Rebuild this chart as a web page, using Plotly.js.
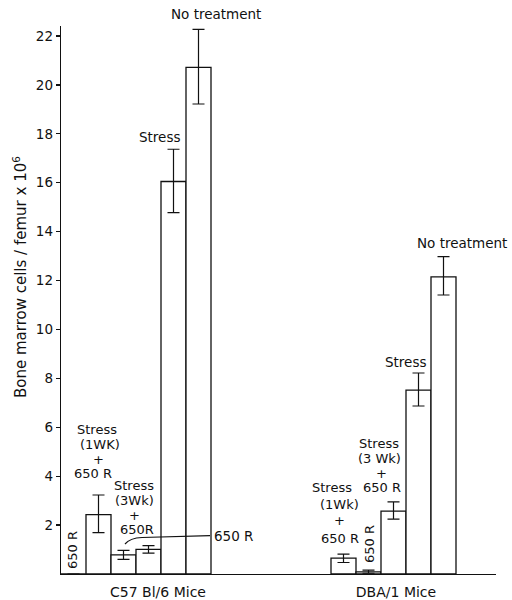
<!DOCTYPE html>
<html><head><meta charset="utf-8">
<script src="https://cdn.plot.ly/plotly-3.0.1.min.js"></script>
<style>html,body{margin:0;padding:0;background:#fff}#chart{width:512px;height:600px}</style>
</head><body><div id="chart"></div>
<script>
// ---- data ----
const c57Categories = ["650 R", "Stress (1 Wk) + 650 R", "Stress (3 Wk) + 650 R", "650 R", "Stress", "No treatment"];
const c57Values    = [0, 2.43, 0.78, 1.01, 16.05, 20.72];
const c57ErrPlus   = [0, 0.80, 0.19, 0.15, 1.32, 1.55];
const c57ErrMinus  = [0, 0.74, 0.18, 0.16, 1.27, 1.50];
const dbaCategories = ["Stress (1 Wk) + 650 R", "650 R", "Stress (3 Wk) + 650 R", "Stress", "No treatment"];
const dbaValues    = [0.65, 0.09, 2.57, 7.52, 12.15];
const dbaErrPlus   = [0.16, 0.07, 0.38, 0.70, 0.83];
const dbaErrMinus  = [0.18, 0.06, 0.33, 0.65, 0.74];
const groupLabels  = ["C57 Bl/6 Mice", "DBA/1 Mice"];
const yTickValues  = [2, 4, 6, 8, 10, 12, 14, 16, 18, 20, 22];
const yTitle = "Bone marrow cells / femur x 10<sup>6</sup>";

// ---- layout helpers ----
const FONT = "DejaVu Sans, Liberation Sans, sans-serif";
const INK = "#111";
const c57Offset = 0, dbaOffset = 10.8;
const PX = px => (px - 61) / 25;       // pixel -> x data (for annotation placement)
const PY = py => (574 - py) / 24.45;   // pixel -> y data

function barTrace(cats, vals, plus, minus, offset) {
  return {
    type: "bar",
    x: cats.map((c, i) => offset + i + 0.5),
    y: vals,
    width: 1,
    hovertext: cats,
    marker: {color: "#fff", line: {color: INK, width: 1.3}},
    error_y: {type: "data", symmetric: false, array: plus, arrayminus: minus,
              color: INK, thickness: 1.2, width: 6},
    showlegend: false,
    cliponaxis: false
  };
}

const ann = [];
function txt(s, px, py, opts) {
  ann.push(Object.assign({text: s, x: PX(px), y: PY(py), xref: "x", yref: "y",
    showarrow: false, xanchor: "center", yanchor: "middle", borderpad: 0,
    font: {family: FONT, size: 13.5, color: INK}}, opts || {}));
}
function stack(lines, xs, ys) {
  lines.forEach((s, i) => txt(s, xs[i], ys[i], {font: {family: FONT, size: 13, color: INK}}));
}
// C57 labels
ann.push({text: "No treatment", x: PX(216), y: (574 - 14) / 548, xref: "x", yref: "paper",
  showarrow: false, xanchor: "center", yanchor: "middle", borderpad: 0,
  font: {family: FONT, size: 13.5, color: INK}});
txt("Stress", 160, 137);
stack(["Stress", "(1WK)", "+", "650 R"], [97, 100, 98, 93], [430, 445, 460, 474]);
stack(["Stress", "(3Wk)", "+", "650R"], [134, 134, 134, 137], [486, 501, 516, 530]);
txt("650 R", 72, 550, {textangle: -90, font: {family: FONT, size: 13, color: INK}});
txt("650 R", 213, 536, {xanchor: "left"});
// DBA labels
txt("No treatment", 462, 243);
txt("Stress", 406, 362);
stack(["Stress", "(3 Wk)", "+", "650 R"], [379, 379, 381, 382], [444, 459, 474, 488]);
stack(["Stress", "(1Wk)", "+", "650 R"], [332, 339, 339, 340], [488, 505, 521, 538]);
txt("650 R", 369, 544, {textangle: -90, font: {family: FONT, size: 13, color: INK}});
// y title (placed to match the reference's off-centre position)
ann.push({text: yTitle, xref: "paper", yref: "paper", x: (20 - 61) / 435, y: (574 - 277) / 548,
  textangle: -90, showarrow: false, xanchor: "center", yanchor: "middle",
  font: {family: FONT, size: 15, color: INK}});

const shapes = [{
  type: "path", xref: "x", yref: "y",
  path: `M ${PX(125)},${PY(544)} Q ${PX(130)},${PY(538)} ${PX(142)},${PY(537.5)} L ${PX(210)},${PY(535.7)}`,
  line: {color: INK, width: 1.2}
}];

const data = [
  barTrace(c57Categories, c57Values, c57ErrPlus, c57ErrMinus, c57Offset),
  barTrace(dbaCategories, dbaValues, dbaErrPlus, dbaErrMinus, dbaOffset)
];

const layout = {
  width: 512, height: 600,
  margin: {l: 61, r: 16, t: 26, b: 26, pad: 0},
  paper_bgcolor: "#fff", plot_bgcolor: "#fff",
  barmode: "overlay",
  font: {family: FONT, size: 14, color: INK},
  xaxis: {range: [0, 17.4], showgrid: false, zeroline: false, showline: true,
          linecolor: INK, linewidth: 1.3, ticks: "", fixedrange: true,
          tickmode: "array", tickvals: [PX(158), PX(396)], ticktext: groupLabels,
          ticklabelstandoff: 5, tickfont: {family: FONT, size: 14, color: INK}},
  yaxis: {range: [0, 22.41], showgrid: false, zeroline: false, showline: true,
          linecolor: INK, linewidth: 1.3, ticks: "outside", ticklen: 4, tickwidth: 1.2,
          tickcolor: INK, tickmode: "array", tickvals: yTickValues,
          tickfont: {family: FONT, size: 13.5, color: INK}, fixedrange: true},
  annotations: ann,
  shapes: shapes
};

Plotly.newPlot("chart", data, layout, {displayModeBar: false, staticPlot: true});
</script>
</body></html>
